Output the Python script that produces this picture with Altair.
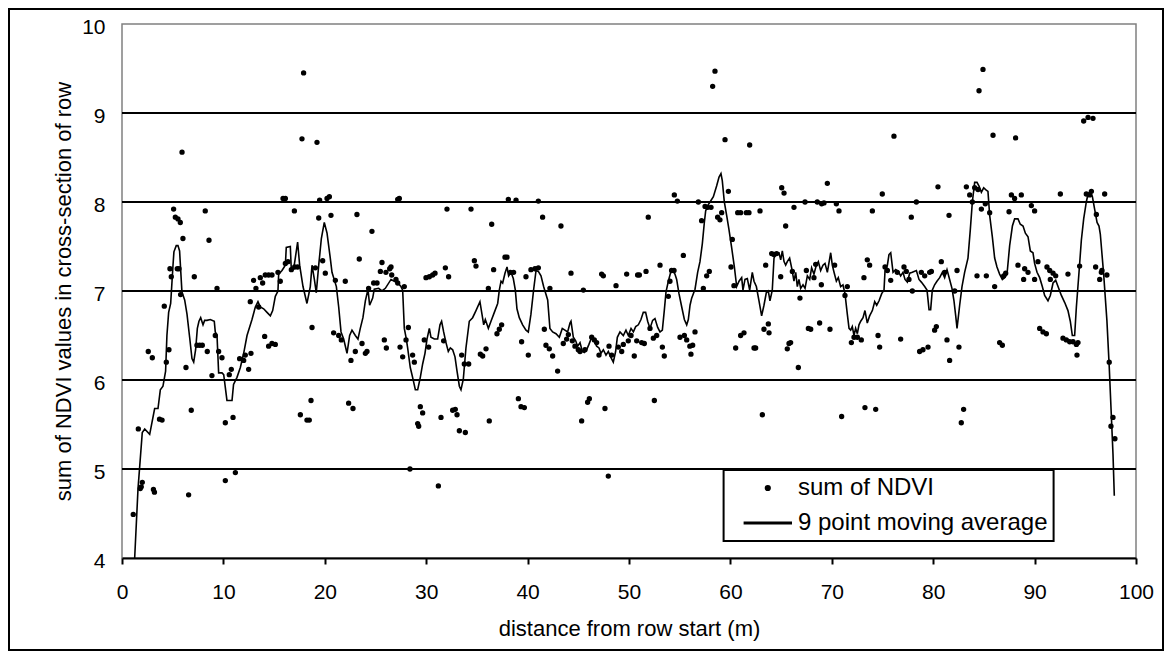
import altair as alt
import pandas as pd

# ---- data ----
pt_x = [1.11, 1.61, 1.8, 1.9, 2.0, 2.59, 2.99, 3.1, 3.2, 3.7, 3.95, 4.17, 4.37, 4.63, 4.73, 4.86, 5.09, 5.26,
        5.45, 5.52, 5.62, 5.75, 5.78, 5.92, 6.01, 6.31, 6.57, 6.83, 7.13, 7.39, 7.66, 7.92, 8.21, 8.41, 8.58,
        8.87, 9.2, 9.37, 9.53, 9.86, 10.19, 10.95, 10.19, 11.18, 10.58, 10.78, 11.6, 12.0, 12.16, 12.49, 12.72,
        12.65, 12.98, 13.21, 13.48, 13.64, 13.87, 14.13, 14.46, 14.79, 14.07, 14.46, 14.79, 15.12, 15.38, 15.61,
        15.88, 16.11, 17.0, 16.11, 16.37, 16.7, 17.03, 17.32, 17.91, 17.75, 19.23, 18.74, 17.59, 18.24, 18.47,
        18.64, 19.07, 19.49, 19.79, 20.05, 20.22, 20.45, 19.4, 20.61, 21.04, 20.87, 21.37, 21.63, 22.02, 22.58,
        23.01, 22.35, 22.78, 23.17, 23.4, 23.67, 24.0, 24.16, 24.65, 24.32, 24.82, 25.15, 25.48, 25.64, 25.87,
        26.07, 26.4, 26.03, 26.53, 26.6, 27.02, 27.19, 27.19, 27.35, 27.42, 27.68, 27.84, 28.01, 28.24, 28.4,
        28.66, 28.83, 29.16, 29.26, 29.42, 29.65, 29.81, 30.24, 29.98, 30.31, 30.64, 30.87, 31.2, 31.46, 31.72,
        31.89, 32.21, 32.05, 32.61, 32.87, 33.04, 33.27, 33.86, 33.5, 33.76, 34.19, 34.42, 34.75, 34.91, 35.34,
        35.57, 35.9, 36.13, 36.22, 36.46, 36.65, 36.98, 37.21, 37.44, 37.77, 37.97, 38.1, 38.86, 38.3, 38.62,
        39.09, 39.35, 39.68, 39.41, 40.07, 39.84, 40.33, 40.73, 41.06, 41.06, 41.48, 41.65, 41.81, 42.14, 42.47,
        42.2, 42.96, 43.29, 43.52, 43.85, 44.02, 44.28, 44.41, 44.67, 45.0, 45.17, 45.33, 45.5, 45.66, 45.92,
        46.09, 46.32, 46.58, 46.81, 47.04, 47.3, 47.47, 47.63, 47.96, 48.03, 48.29, 48.72, 48.95, 49.28, 49.44,
        49.77, 49.93, 50.2, 50.52, 50.76, 50.85, 51.02, 51.25, 51.51, 51.68, 51.9, 52.07, 52.4, 52.73, 52.5,
        53.06, 53.29, 53.48, 53.88, 54.04, 54.2, 54.44, 54.47, 54.77, 55.03, 55.46, 55.69, 55.36, 56.0, 56.11,
        56.28, 56.51, 56.84, 57.16, 57.5, 57.76, 58.09, 57.33, 57.66, 57.92, 58.25, 58.48, 58.74, 58.97, 59.14,
        59.47, 59.8, 60.06, 60.35, 60.52, 60.72, 60.19, 61.01, 61.57, 61.83, 62.92, 61.9, 61.01, 61.34, 62.33,
        62.49, 63.15, 63.31, 63.74, 63.81, 63.48, 64.07, 64.3, 64.56, 64.96, 65.06, 65.29, 65.45, 65.61, 65.78,
        65.94, 66.11, 66.27, 66.7, 66.86, 67.36, 67.49, 67.69, 67.92, 68.24, 68.41, 68.57, 69.0, 69.23, 68.8,
        68.97, 69.56, 69.82, 70.28, 70.45, 70.71, 70.97, 71.3, 71.53, 71.93, 72.19, 72.52, 72.91, 73.27, 74.33,
        73.17, 73.5, 73.73, 74.0, 74.56, 74.72, 74.98, 75.25, 75.48, 75.81, 76.13, 76.46, 76.79, 77.12, 77.35,
        77.61, 77.84, 77.94, 78.34, 78.66, 78.99, 79.49, 78.83, 79.16, 79.65, 79.82, 80.14, 80.31, 80.47, 80.8,
        81.13, 81.36, 81.56, 81.62, 82.12, 82.35, 82.54, 82.77, 83.0, 83.27, 83.6, 83.86, 84.09, 84.42, 84.75,
        85.14, 85.57, 84.52, 84.91, 84.32, 85.24, 85.9, 86.06, 86.55, 86.82, 86.95, 87.15, 87.48, 87.71, 88.03,
        88.69, 88.13, 88.36, 89.02, 89.35, 88.92, 90.0, 89.68, 90.0, 90.33, 90.5, 90.83, 91.16, 91.22, 91.49,
        91.82, 92.08, 91.55, 92.54, 92.8, 93.13, 93.46, 93.79, 94.12, 94.28, 94.18, 93.29, 94.44, 94.84, 95.27,
        95.76, 95.1, 95.43, 95.6, 96.09, 96.02, 96.42, 96.58, 96.91, 97.36, 97.73, 97.53, 97.92, 97.13, 96.64]
pt_y = [4.49, 5.45, 4.78, 4.8, 4.85, 6.32, 6.25, 4.77, 4.74, 5.56, 5.55, 6.83, 6.2, 6.34, 7.25, 7.16, 7.92, 7.83,
        7.25, 7.81, 7.25, 7.77, 6.96, 8.56, 7.59, 6.14, 4.71, 5.66, 7.16, 6.39, 6.39, 6.39, 7.9, 6.32, 7.57,
        6.05, 6.5, 7.03, 6.32, 6.25, 5.52, 5.58, 4.87, 4.96, 6.06, 6.12, 6.24, 6.22, 6.28, 6.12, 6.3,
        6.88, 7.12, 7.03, 6.82, 7.15, 7.09, 7.18, 7.18, 7.18, 6.49, 6.38, 6.41, 6.4, 7.21, 7.11,
        8.04, 8.04, 7.9, 7.31, 7.33, 7.24, 7.27, 7.27, 9.45, 8.71, 8.67, 6.59, 5.61, 5.55, 5.55,
        5.77, 7.26, 8.02, 7.34, 7.2, 8.04, 8.06, 7.82, 7.85, 7.12, 6.53, 6.5, 6.45, 7.11, 6.22,
        6.32, 5.74, 5.68, 7.86, 7.36, 6.41, 6.3, 6.32, 7.67, 7.03, 7.09, 7.09, 7.22, 7.32, 6.45,
        6.36, 7.25, 7.21, 7.27, 7.18, 7.13, 7.09, 8.03, 8.04, 6.37, 6.26, 7.05, 6.45, 6.59, 5.0,
        6.28, 6.2, 5.51, 5.48, 5.7, 5.63, 6.45, 6.37, 7.15, 7.16, 7.18, 7.2, 4.81, 5.58, 6.44,
        7.26, 7.16, 7.92, 5.66, 5.67, 5.61, 5.43, 5.41, 6.28, 6.18, 6.18, 7.92, 7.34, 7.28, 6.29,
        6.27, 6.35, 7.03, 5.54, 7.75, 7.24, 6.52, 6.57, 6.62, 7.38, 7.38, 8.03, 8.02, 7.21, 7.21,
        5.79, 5.7, 5.69, 6.43, 6.28, 7.16, 7.24, 7.25, 7.26, 8.01, 7.83, 6.57, 6.39, 6.35, 6.27,
        7.03, 6.1, 7.73, 6.41, 6.46, 6.51, 7.2, 6.44, 6.38, 6.34, 6.32, 5.54, 7.01, 6.34, 5.75,
        5.79, 6.48, 6.45, 6.42, 6.28, 7.19, 7.17, 5.68, 4.92, 6.38, 6.28, 7.06, 6.37, 6.32, 6.4,
        7.19, 6.44, 6.5, 6.27, 6.44, 7.18, 7.18, 6.42, 6.41, 7.22, 7.83, 6.58, 6.47, 6.5, 5.77,
        7.29, 6.37, 6.27, 6.94, 7.11, 7.23, 7.23, 8.08, 8.01, 6.48, 6.5, 6.45, 7.4, 6.38, 6.29,
        6.39, 6.54, 8.0, 7.79, 7.95, 7.94, 7.94, 7.03, 7.17, 7.22, 9.3, 9.47, 7.83, 7.8, 7.88,
        8.7, 8.12, 7.27, 7.06, 6.36, 7.88, 7.58, 7.88, 7.88, 7.88, 7.9, 8.64, 6.5, 6.53, 6.36,
        6.36, 5.61, 6.57, 6.63, 6.53, 7.29, 7.42, 7.41, 7.42, 7.16, 8.16, 8.1, 7.73, 6.35, 6.41,
        6.42, 7.22, 7.94, 6.14, 6.92, 8.0, 7.23, 6.58, 6.57, 7.15, 7.3, 8.0, 7.98, 7.99, 6.64,
        7.07, 8.21, 6.57, 7.29, 7.98, 7.9, 5.59, 6.95, 7.05, 6.42, 6.48, 6.48, 6.45, 5.69, 5.67,
        7.15, 7.35, 7.29, 7.9, 6.5, 6.37, 8.09, 7.27, 7.23, 7.12, 8.74, 7.21, 6.46, 7.27, 7.22,
        7.13, 7.83, 7.0, 8.0, 6.32, 6.34, 6.37, 7.21, 7.17, 7.21, 7.22, 6.56, 6.6, 8.17, 7.33,
        7.21, 6.45, 7.85, 6.22, 7.0, 7.23, 6.37, 5.52, 5.67, 8.17, 8.08, 8.0, 8.16, 8.14, 7.92,
        7.98, 7.88, 9.25, 9.49, 7.17, 7.17, 8.75, 7.05, 6.42, 6.39, 7.17, 7.2, 7.89, 8.08, 8.04,
        8.08, 8.72, 7.29, 7.25, 7.21, 7.13, 7.13, 7.96, 7.9, 7.33, 6.58, 6.54, 6.52, 7.27, 7.23,
        7.2, 7.17, 7.13, 8.09, 6.47, 6.45, 6.43, 6.43, 6.4, 6.42, 6.28, 7.19, 7.28, 8.91, 8.95,
        8.94, 8.09, 8.08, 8.12, 7.86, 7.27, 7.13, 7.21, 8.09, 6.2, 5.58, 5.48, 5.34, 7.18, 7.23]

ma_x = [1.25, 1.58, 2.0, 2.24, 2.73, 3.22, 3.55, 3.78, 4.04, 4.3, 4.43, 4.6, 4.8, 5.03, 5.12, 5.35, 5.52, 5.68,
        5.91, 6.18, 6.41, 6.67, 6.9, 7.07, 7.26, 7.43, 7.59, 7.76, 7.99, 8.15, 8.38, 8.71, 9.1, 9.2, 9.37,
        9.53, 9.86, 10.03, 10.35, 10.85, 11.0, 11.34, 11.67, 12.0, 12.33, 12.82, 13.15, 13.41, 13.64, 13.97,
        14.3, 14.63, 14.86, 15.12, 15.38, 15.45, 15.78, 16.11, 16.2, 16.6, 16.7, 16.93, 17.09, 17.32, 17.52,
        17.85, 18.24, 18.57, 18.74, 18.97, 19.16, 19.4, 19.66, 19.95, 20.22, 20.54, 20.71, 21.14, 21.37, 21.6,
        21.86, 22.19, 22.45, 22.68, 23.01, 23.27, 23.5, 23.76, 24.0, 24.26, 24.42, 24.72, 24.88, 25.31, 25.64,
        25.97, 26.53, 26.86, 27.19, 27.51, 27.68, 27.84, 28.01, 28.17, 28.43, 28.66, 28.93, 29.16, 29.42,
        29.65, 29.88, 30.08, 30.31, 30.47, 30.8, 31.13, 31.36, 31.52, 31.72, 31.95, 32.18, 32.38, 32.61,
        32.84, 33.04, 33.27, 33.43, 33.66, 33.92, 34.25, 34.58, 34.91, 35.3, 35.5, 35.67, 35.83, 36.13,
        36.39, 36.72, 37.05, 37.21, 37.38, 37.54, 37.77, 37.97, 38.13, 38.36, 38.59, 38.79, 38.95, 39.18,
        39.51, 39.84, 40.07, 40.33, 40.6, 40.83, 41.06, 41.32, 41.58, 41.98, 42.2, 42.47, 42.8, 43.13, 43.42,
        43.68, 43.95, 44.18, 44.28, 44.51, 44.74, 44.94, 45.17, 45.4, 45.59, 45.82, 46.05, 46.32, 46.58,
        46.81, 47.04, 47.24, 47.47, 47.73, 47.96, 48.19, 48.45, 48.68, 48.85, 49.11, 49.44, 49.7, 49.93,
        50.2, 50.43, 50.66, 50.92, 51.18, 51.41, 51.64, 51.84, 52.07, 52.33, 52.56, 52.83, 53.06, 53.29,
        53.48, 53.65, 53.88, 54.11, 54.27, 54.53, 54.7, 54.93, 55.2, 55.46, 55.69, 55.85, 56.02, 56.18,
        56.51, 56.77, 57.0, 57.23, 57.43, 57.56, 57.76, 57.99, 58.32, 58.64, 58.88, 59.07, 59.2, 59.4,
        59.63, 59.86, 60.12, 60.39, 60.62, 60.85, 61.11, 61.24, 61.44, 61.67, 61.9, 62.16, 62.33, 62.56,
        62.82, 63.08, 63.31, 63.54, 63.74, 63.9, 64.13, 64.3, 64.53, 64.79, 64.96, 65.12, 65.29, 65.45,
        65.61, 65.84, 66.04, 66.27, 66.44, 66.6, 66.76, 66.93, 67.16, 67.36, 67.59, 67.82, 68.01, 68.24,
        68.47, 68.67, 68.9, 69.13, 69.33, 69.56, 69.89, 70.05, 70.22, 70.45, 70.64, 70.87, 71.1, 71.3,
        71.53, 71.7, 71.86, 72.02, 72.19, 72.35, 72.52, 72.68, 72.85, 73.08, 73.27, 73.5, 73.73, 74.0,
        74.23, 74.43, 74.66, 74.92, 75.15, 75.25, 75.48, 75.64, 75.81, 76.04, 76.3, 76.56, 76.79, 77.02,
        77.22, 77.45, 77.68, 77.94, 78.34, 78.6, 78.83, 79.16, 79.39, 79.59, 79.75, 79.91, 80.14, 80.37,
        80.64, 80.9, 81.13, 81.36, 81.62, 81.85, 82.05, 82.22, 82.35, 82.61, 82.84, 83.1, 83.43, 83.66,
        83.86, 84.09, 84.32, 84.52, 84.75, 84.98, 85.17, 85.4, 85.57, 85.83, 86.06, 86.29, 86.55, 86.82,
        87.05, 87.28, 87.54, 87.81, 88.03, 88.36, 88.59, 88.86, 89.09, 89.35, 89.58, 89.84, 90.0, 90.24,
        90.5, 90.76, 90.99, 91.32, 91.55, 91.82, 92.08, 92.31, 92.64, 92.97, 93.29, 93.52, 93.72, 93.95,
        94.12, 94.38, 94.61, 94.84, 95.1, 95.27, 95.5, 95.7, 95.92, 96.16, 96.35, 96.48, 96.81, 97.13,
        97.36, 97.56, 97.73, 97.86]
ma_y = [4.0, 4.78, 5.41, 5.45, 5.39, 5.68, 5.68, 5.89, 5.93, 6.1, 6.5, 6.76, 6.86, 7.29, 7.44, 7.51, 7.51, 7.45,
        6.99, 6.9, 6.74, 6.48, 6.24, 6.2, 6.34, 6.58, 6.66, 6.7, 6.62, 6.67, 6.67, 6.68, 6.66, 6.54, 6.5,
        6.08, 6.08, 6.06, 5.77, 5.77, 5.95, 6.03, 6.14, 6.3, 6.5, 6.68, 6.82, 6.88, 6.82, 6.8,
        6.76, 6.72, 6.78, 6.94, 7.0, 7.19, 7.23, 7.29, 7.49, 7.5, 7.23, 7.25, 7.37, 7.55, 7.29,
        7.05, 6.86, 7.05, 7.29, 7.13, 6.98, 7.29, 7.59, 7.77, 7.65, 7.37, 7.21, 7.05, 6.82, 6.54,
        6.46, 6.3, 6.5, 6.56, 6.5, 6.46, 6.58, 6.7, 6.89, 7.02, 6.84, 6.92, 7.02, 7.03, 7.0,
        7.03, 7.13, 7.11, 7.09, 7.05, 7.01, 6.58, 6.48, 6.36, 6.14, 6.03, 5.89, 5.89, 6.03,
        6.18, 6.3, 6.46, 6.58, 6.48, 6.46, 6.46, 6.62, 6.66, 6.54, 6.42, 6.32, 6.36, 6.34,
        6.26, 6.1, 5.93, 5.89, 6.01, 6.36, 6.66, 6.7, 6.78, 6.88, 6.74, 6.62, 6.68, 6.58,
        6.66, 6.76, 6.86, 7.01, 7.11, 7.09, 7.2, 7.27, 7.17, 7.21, 7.14, 7.01, 6.8, 6.7,
        6.62, 6.56, 6.54, 6.74, 7.02, 7.23, 7.22, 7.17, 7.05, 6.9, 6.58, 6.54, 6.52, 6.48, 6.58,
        6.56, 6.54, 6.64, 6.66, 6.48, 6.44, 6.38, 6.42, 6.32, 6.31, 6.34, 6.4, 6.48, 6.44,
        6.38, 6.36, 6.3, 6.34, 6.28, 6.32, 6.26, 6.2, 6.32, 6.48, 6.54, 6.5, 6.56, 6.5,
        6.58, 6.54, 6.6, 6.62, 6.68, 6.76, 6.76, 6.66, 6.58, 6.67, 6.69, 6.59, 6.54, 6.56,
        6.78, 6.99, 7.11, 7.21, 7.24, 7.19, 7.13, 6.97, 6.82, 6.68, 6.62, 6.68, 6.84, 6.92,
        7.02, 7.21, 7.33, 7.53, 7.77, 7.9, 7.96, 8.0, 8.06, 8.18, 8.28, 8.32, 8.24, 8.0,
        7.85, 7.69, 7.49, 7.27, 7.05, 7.11, 7.15, 7.01, 7.13, 7.14, 7.01, 7.21, 7.11, 7.05,
        6.89, 6.72, 6.84, 6.98, 7.0, 6.89, 7.01, 7.37, 7.43, 7.43, 7.35, 7.45, 7.33, 7.29,
        7.33, 7.37, 7.26, 7.11, 7.21, 7.05, 7.13, 7.03, 7.07, 7.03, 7.17, 7.13, 7.26, 7.19,
        7.29, 7.33, 7.23, 7.29, 7.31, 7.21, 7.43, 7.29, 7.21, 7.11, 7.15, 7.05, 7.07, 6.97,
        6.74, 6.58, 6.56, 6.6, 6.5, 6.58, 6.52, 6.62, 6.66, 6.7, 6.78, 6.64, 6.72, 6.78,
        6.88, 6.84, 6.89, 6.97, 7.01, 7.23, 7.29, 7.41, 7.43, 7.21, 7.24, 7.22, 7.17, 7.21,
        7.13, 7.1, 7.2, 7.21, 7.23, 7.13, 7.1, 7.05, 7.01, 6.79, 6.79, 7.01, 7.07, 7.11,
        7.15, 7.21, 7.15, 7.24, 7.13, 7.03, 6.89, 6.72, 6.58, 6.84, 7.05, 7.21, 7.37, 7.69,
        8.0, 8.22, 8.22, 8.18, 8.11, 8.16, 8.14, 8.12, 7.85, 7.61, 7.37, 7.27, 7.19, 7.13,
        7.15, 7.19, 7.51, 7.73, 7.81, 7.81, 7.75, 7.73, 7.65, 7.61, 7.45, 7.43, 7.31, 7.21,
        7.15, 7.05, 6.95, 6.89, 6.95, 7.09, 7.12, 7.05, 6.95, 6.87, 6.78, 6.66, 6.5, 6.5,
        6.82, 7.21, 7.57, 7.81, 8.0, 8.09, 8.12, 8.06, 7.92, 7.77, 7.73, 7.64, 7.19, 6.67,
        6.15, 5.62, 5.17, 4.7]

series_names = ["sum of NDVI", "9 point moving average"]
x_ticks = [0, 10, 20, 30, 40, 50, 60, 70, 80, 90, 100]
y_ticks = [4, 5, 6, 7, 8, 9, 10]
grid_vals = [5, 6, 7, 8, 9]

FONT = "Liberation Sans"
W, H = 1014, 534

pts = pd.DataFrame({"x": pt_x, "y": pt_y, "series": series_names[0]})
ma = pd.DataFrame({"x": ma_x, "y": ma_y})
grid = pd.DataFrame({"g": grid_vals})
frame = pd.DataFrame({"k": [0]})

xs = alt.Scale(domain=[0, 100], nice=False, zero=False)
ys = alt.Scale(domain=[4, 10], nice=False, zero=False)

x_axis = alt.Axis(
    values=x_ticks, title="distance from row start (m)", grid=False,
    domainColor="black", domainWidth=2, tickColor="black", tickWidth=2, tickSize=6,
    labelPadding=17, labelFontSize=21, labelFont=FONT, labelColor="black", labelFlush=False,
    titleFont=FONT, titleFontSize=22, titleFontWeight="normal", titleColor="black",
    titleY=77, titleBaseline="alphabetic")
y_axis = alt.Axis(
    values=y_ticks, title="sum of NDVI values in cross-section of row", grid=False,
    domain=False, ticks=False, labelPadding=17, labelOffset=3, labelFontSize=21,
    labelFont=FONT, labelColor="black", labelFlush=False,
    titleFont=FONT, titleFontSize=22, titleFontWeight="normal", titleColor="black",
    titleX=-52, titleY=H / 2, titleBaseline="alphabetic", titleAlign="center")

grid_layer = alt.Chart(grid).mark_rule(color="black", strokeWidth=2).encode(
    y=alt.Y("g:Q", scale=ys, axis=y_axis)
)

line_layer = alt.Chart(ma).mark_line(color="black", strokeWidth=1.6).encode(
    x=alt.X("x:Q", scale=xs, axis=x_axis),
    y=alt.Y("y:Q", scale=ys, axis=y_axis),
)

# legend glyphs: a filled dot and a thin filled bar standing in for the line
LINE_GLYPH = "M-10,-0.34H10V0.34H-10Z"

point_layer = alt.Chart(pts).mark_point(
    filled=False, fill="black", stroke="black", strokeWidth=1.6, size=14, opacity=1
).encode(
    x=alt.X("x:Q", scale=xs, axis=x_axis),
    y=alt.Y("y:Q", scale=ys, axis=y_axis),
    shape=alt.Shape("series:N",
                    scale=alt.Scale(domain=series_names, range=["circle", LINE_GLYPH]),
                    legend=alt.Legend(
                        title=None, orient="none", legendX=601.6, legendY=446,
                        strokeColor="black", fillColor="white", padding=6,
                        labelFont=FONT, labelFontSize=24, labelColor="black",
                        rowPadding=11, symbolOffset=26.2, labelOffset=18.2,
                        symbolSize=22, symbolFillColor="black", labelLimit=400,
                    )),
)

frame_layer = alt.Chart(frame).mark_rect(
    fill="transparent", stroke="black", strokeWidth=2
).encode(
    x=alt.value(-113), x2=alt.value(1041), y=alt.value(-15), y2=alt.value(626)
)

chart = alt.layer(grid_layer, line_layer, point_layer, frame_layer).properties(
    width=W, height=H,
    autosize=alt.AutoSizeParams(type="none"),
    padding={"left": 114, "top": 16, "right": 28, "bottom": 93},
    background="white",
).configure_view(
    stroke="#808080", strokeWidth=1.5
).configure_legend(
    strokeWidth=2
)

chart.save("out.html", embed_options={"renderer": "svg", "actions": False})
